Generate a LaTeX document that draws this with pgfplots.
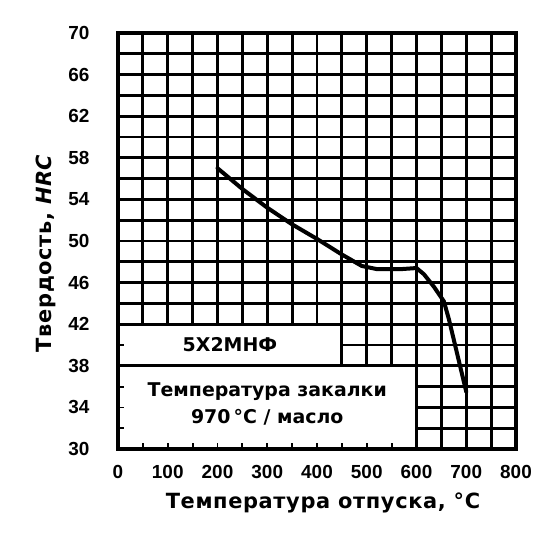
\documentclass[border=0pt]{standalone}
\usepackage{fontspec}
\setmainfont{DejaVu Sans}
\newfontfamily\tickfont{Liberation Sans}
\usepackage{pgfplots}
\pgfplotsset{compat=1.18}
\begin{document}
\begin{tikzpicture}
\begin{axis}[
  scale only axis, width=398bp, height=416bp,
  xmin=0, xmax=800, ymin=30, ymax=70,
  xtick={0,100,...,800}, ytick={30,34,...,70},
  minor xtick={50,150,...,750}, minor ytick={32,36,...,68},
  grid=both,
  major grid style={black, line width=2.8bp},
  minor grid style={black, line width=2.8bp},
  major tick length=0pt, minor tick length=0pt,
  axis line style={line width=3.2bp},
  clip=false,
  /pgf/number format/assume math mode=true,
  ticklabel style={font=\fontsize{19}{19}\selectfont\tickfont\bfseries},
  xticklabel style={anchor=center, yshift=-23bp},
  yticklabel style={anchor=east, xshift=-25bp},
  xlabel={Температура отпуска, °C},
  ylabel={Твердость, \textit{HRC}},
  xlabel style={font=\fontsize{21}{21}\selectfont\bfseries\addfontfeature{LetterSpace=3},
    at={([yshift=-54bp]rel axis cs:0.515,0)}, anchor=center},
  ylabel style={font=\fontsize{21}{21}\selectfont\bfseries\addfontfeature{LetterSpace=3},
    at={([xshift=-72bp]rel axis cs:0,0.471)}, anchor=center},
]
\fill[white] (axis cs:0,30) rectangle (axis cs:600,38);
\fill[white] (axis cs:0,38) rectangle (axis cs:450,42);
\draw[line width=2.8bp] (axis cs:0,38) -- (axis cs:600,38) -- (axis cs:600,30);
\draw[line width=2.8bp] (axis cs:0,42) -- (axis cs:450,42) -- (axis cs:450,38);
\pgfplotsinvokeforeach{50,100,...,550}{\draw[line width=1.8bp] (axis cs:#1,30) -- ([yshift=6bp]axis cs:#1,30);}
\pgfplotsinvokeforeach{32,34,36,40}{\draw[line width=1.8bp] (axis cs:0,#1) -- ([xshift=6bp]axis cs:0,#1);}
\draw[line width=3.2bp] (rel axis cs:0,0) rectangle (rel axis cs:1,1);
\addplot[black, line width=4bp, line join=round, line cap=round, mark=none] coordinates {
 (200,57) (250,55) (300,53.2) (350,51.6) (400,50.2) (450,48.7) (490,47.6) (520,47.3)
 (570,47.3) (600,47.4) (615,46.8) (635,45.6) (655,44.2) (665,42.5) (700,35.5)
};
\node[font=\fontsize{19}{19}\selectfont\bfseries] at (axis cs:225,40) {5Х2МНФ};
\node[font=\fontsize{19}{27}\selectfont\bfseries, align=center] at (axis cs:300,34.3)
  {Температура\ закалки\\970\,°C / масло};
\end{axis}
\path ([xshift=-118bp,yshift=-89bp]current axis.south west) rectangle ([xshift=36bp,yshift=33bp]current axis.north east);
\end{tikzpicture}
\end{document}
